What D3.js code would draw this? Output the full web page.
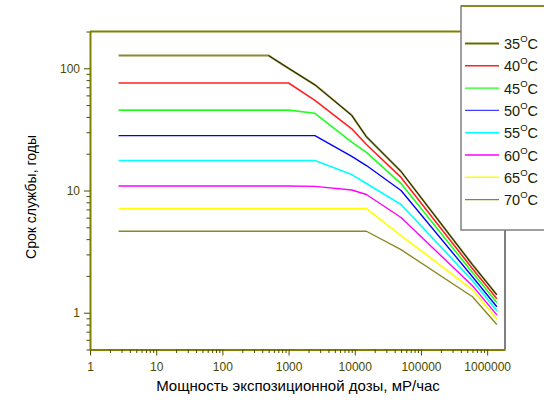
<!DOCTYPE html>
<html><head><meta charset="utf-8">
<script src="https://cdn.jsdelivr.net/npm/d3@7/dist/d3.min.js"></script>
<style>
body{margin:0;background:#fff;}
svg{display:block;font-family:"Liberation Sans",Arial,sans-serif;}
</style></head>
<body><svg id="c" width="544" height="402"></svg>
<script>
const doseRates = [2.7, 500, 1000, 2500, 9000, 15000, 50000, 600000, 1400000];
const temps = ["35", "40", "45", "50", "55", "60", "65", "70"];
const life35 = [127, 127, 100, 73.2, 41.2, 27.5, 14.3, 2.47, 1.40];
const life40 = [75.8, 75.8, 75.8, 54.7, 32.0, 23.8, 12.8, 2.29, 1.30];
const life45 = [45.5, 45.5, 45.5, 42.8, 24.9, 20.5, 11.4, 2.13, 1.21];
const life50 = [28.1, 28.1, 28.1, 28.1, 19.0, 16.0, 10.0, 1.97, 1.12];
const life55 = [17.6, 17.6, 17.6, 17.6, 13.5, 11.4, 7.68, 1.83, 1.04];
const life60 = [10.9, 10.9, 10.9, 10.8, 10.1, 9.27, 6.01, 1.66, 0.96];
const life65 = [7.12, 7.12, 7.12, 7.12, 7.12, 7.12, 4.28, 1.54, 0.89];
const life70 = [4.64, 4.64, 4.64, 4.64, 4.64, 4.64, 3.28, 1.35, 0.80];
const xTicks = [1, 10, 100, 1000, 10000, 100000, 1000000];
const yTicks = [1, 10, 100];
const xTitle = "Мощность экспозиционной дозы, мР/час";
const yTitle = "Срок службы, годы";

const seriesVals = [life35, life40, life45, life50, life55, life60, life65, life70];
const colors = ["#8a8a30", "#ff2020", "#20ff20", "#0000ff", "#00ffff", "#ff00ff", "#ffff00", "#8a8a20"];
const widths = [2, 1.6, 1.6, 1.4, 1.6, 1.4, 1.6, 1.4];

const svg = d3.select("#c");
const L = 90, R = 505, T = 31.5, B = 349.5;
const x = d3.scaleLog().domain([1, 1.86e6]).range([L, R]);
const y = d3.scaleLog().domain([0.5, 200]).range([B, T]);
const axisCol = "#808000";
const tickTextCol = "#4a4a00";

const xMinor = [];
for (let d = 1; d <= 1e6; d *= 10) for (let k = 2; k <= 9; k++) if (d * k <= 1.86e6) xMinor.push(d * k);
const yMinor = [];
for (let d = 0.1; d <= 100; d *= 10) for (let k = 2; k <= 9; k++) { const v = +(d * k).toPrecision(3); if (v >= 0.5 && v <= 200) yMinor.push(v); }

svg.append("line").attr("x1", L).attr("x2", R).attr("y1", T).attr("y2", T).attr("stroke", axisCol).attr("stroke-width", 2);
svg.append("line").attr("x1", R).attr("x2", R).attr("y1", T).attr("y2", B).attr("stroke", "#000").attr("stroke-width", 1);

const line = d3.line().x(d => x(d[0])).y(d => y(d[1]));
seriesVals.forEach((vals, i) => {
  const pts = doseRates.map((dr, j) => [dr, vals[j]]);
  svg.append("path").attr("d", line(pts)).attr("fill", "none")
    .attr("stroke", colors[i]).attr("stroke-width", widths[i]).attr("stroke-linejoin", "round");
});
{
  const pts = doseRates.map((dr, j) => [dr, life35[j]]).filter(d => d[0] >= 500);
  svg.append("path").attr("d", line(pts)).attr("fill", "none")
    .attr("stroke", "#202000").attr("stroke-width", 1);
}

const gx = svg.append("g").attr("transform", `translate(0,${B})`);
gx.call(d3.axisBottom(x).tickValues(xTicks).tickFormat(d3.format("d")).tickSize(6).tickSizeOuter(0));
const gxm = svg.append("g").attr("transform", `translate(0,${B})`);
gxm.call(d3.axisBottom(x).tickValues(xMinor).tickFormat("").tickSize(3.5).tickSizeOuter(0));
gxm.select(".domain").remove();
const gy = svg.append("g").attr("transform", `translate(${L},0)`);
gy.call(d3.axisLeft(y).tickValues(yTicks).tickFormat(d3.format("d")).tickSize(6).tickSizeOuter(0));
const gym = svg.append("g").attr("transform", `translate(${L},0)`);
gym.call(d3.axisLeft(y).tickValues(yMinor).tickFormat("").tickSize(3.5).tickSizeOuter(0));
gym.select(".domain").remove();

[gx, gy, gxm, gym].forEach(g => {
  g.selectAll(".domain").attr("stroke", axisCol).attr("stroke-width", 2);
  g.selectAll(".tick line").attr("stroke", "#4a4a00").attr("stroke-width", 1);
  g.selectAll("text").attr("fill", tickTextCol).attr("font-size", 12).attr("font-family", "Liberation Sans, Arial, sans-serif");
});
gx.selectAll("text").attr("dy", "1.05em");
gy.selectAll("text").attr("x", -10);

svg.append("text").attr("x", 298).attr("y", 391).attr("text-anchor", "middle")
  .attr("font-size", 15).attr("fill", "#000").text(xTitle);
svg.append("text").attr("transform", "translate(36,197) rotate(-90)").attr("text-anchor", "middle")
  .attr("font-size", 14).attr("fill", "#000").text(yTitle);

const lg = svg.append("g");
lg.append("rect").attr("x", 461).attr("y", 6).attr("width", 120).attr("height", 224)
  .attr("fill", "#fff").attr("stroke", "#808080").attr("stroke-width", 1.5);
lg.append("line").attr("x1", 461).attr("x2", 544).attr("y1", 6).attr("y2", 6).attr("stroke", axisCol).attr("stroke-width", 1.5);
const legW = [2, 1.4, 1.4, 1.4, 1.4, 1.4, 1.4, 1.4];
const legCol = ["#6b6b00", "#ff2020", "#20ff20", "#4040ff", "#00ffff", "#ff00ff", "#ffff00", "#8a8a20"];
temps.forEach((t, i) => {
  const yy = 43.5 + i * 22.3;
  lg.append("line").attr("x1", 465).attr("x2", 499).attr("y1", yy).attr("y2", yy)
    .attr("stroke", legCol[i]).attr("stroke-width", legW[i]);
  const tx = lg.append("text").attr("x", 504).attr("y", yy + 5.5).attr("font-size", 14.5).attr("fill", "#1a1a00");
  tx.append("tspan").text(t);
  tx.append("tspan").attr("font-size", 9.5).attr("dy", -7).text("O");
  tx.append("tspan").attr("dy", 7).text("C");
});
</script></body></html>
